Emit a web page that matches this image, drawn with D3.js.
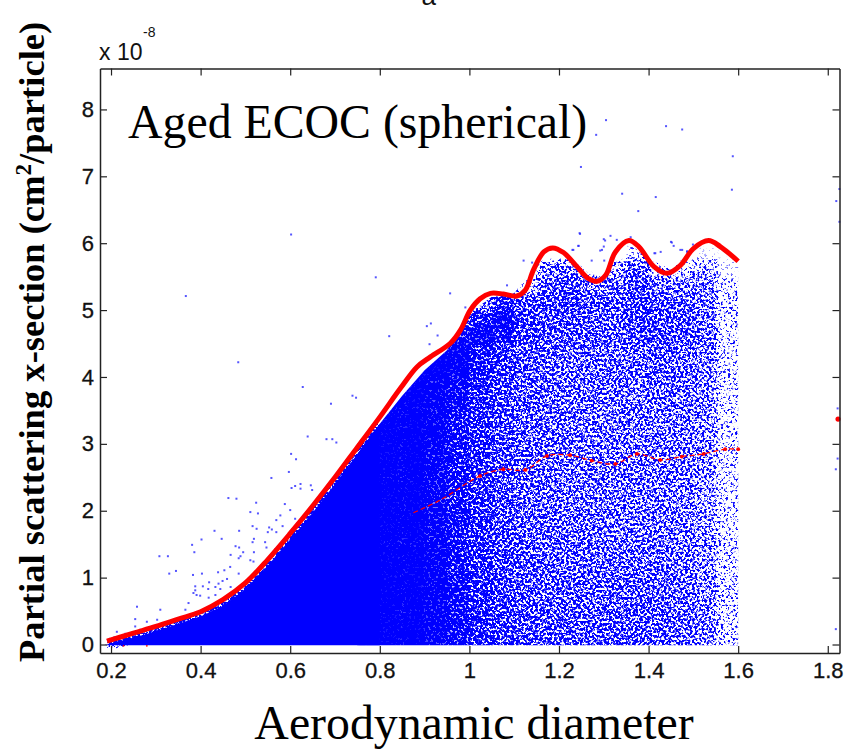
<!DOCTYPE html>
<html><head><meta charset="utf-8">
<script src="https://cdn.jsdelivr.net/npm/d3@7"></script>
<style>html,body{margin:0;padding:0;background:#fff}svg{display:block}</style>
</head><body><svg id="c" width="846" height="750"></svg>
<script>
// Values
const xTicks = [0.2,0.4,0.6,0.8,1,1.2,1.4,1.6,1.8];
const xTickLabels = ["0.2","0.4","0.6","0.8","1","1.2","1.4","1.6","1.8"];
const yTicks = [0,1,2,3,4,5,6,7,8];

const maxX = [0.191,0.25,0.3,0.35,0.4,0.45,0.5,0.55,0.6,0.65,0.7,0.75,0.8,0.846,0.883,0.913,0.957,0.98,1.002,1.024,1.047,1.076,1.106,1.125,1.143,1.166,1.186,1.21,1.24,1.266,1.285,1.304,1.326,1.356,1.378,1.412,1.441,1.471,1.5,1.534,1.56,1.6];
const maxY = [0.05,0.17,0.27,0.38,0.49,0.67,0.92,1.27,1.66,2.07,2.5,2.95,3.4,3.83,4.15,4.3,4.5,4.7,5,5.17,5.25,5.24,5.21,5.3,5.6,5.87,5.93,5.86,5.65,5.47,5.43,5.52,5.87,6.04,5.95,5.65,5.55,5.67,5.92,6.04,5.95,5.73];

const meanX = [0.875,0.935,1.024,1.076,1.125,1.173,1.225,1.273,1.326,1.374,1.426,1.474,1.523,1.571,1.6];
const meanY = [1.97,2.16,2.52,2.62,2.61,2.82,2.83,2.75,2.7,2.85,2.76,2.81,2.85,2.92,2.92];
const strayRed = [[1.823,3.37],[0.228,-0.02],[0.28,-0.02]];

// Upper edge of the solid part of the cloud, and of the whole cloud
const solidX = [0.19,0.25,0.3,0.35,0.4,0.45,0.5,0.55,0.6,0.65,0.7,0.75,0.8];
const solidY = [0,0.1,0.2,0.31,0.42,0.58,0.83,1.18,1.57,1.97,2.4,2.85,3.3];
const edgeX = [0.75,0.8,0.85,0.9,0.95,1.0,1.05,1.1,1.15,1.2,1.25,1.3,1.35,1.4,1.45,1.5,1.55,1.6];
const edgeY = [2.85,3.3,3.72,4.1,4.4,4.95,5.2,5.25,5.7,5.85,5.65,5.5,6,5.8,5.6,5.95,6,5.73];

// Estimated fill fraction of the cloud, per 0.05 x bin and per y bin
const densityXStart = [0.7,0.75,0.8,0.85,0.9,0.95,1,1.05,1.1,1.15,1.2,1.25,1.3,1.35,1.4,1.45,1.5,1.55,1.6];
const densityYStart = [5.75,5.5,5.25,5,4.75,4.5,4,3.5,3,2.5,2,1.5,1,0.5,0,-0.5];
const densityYEnd   = [6,5.75,5.5,5.25,5,4.75,4.5,4,3.5,3,2.5,2,1.5,1,0.5,0];
const density = [
 [0,0,0,0,0,0,0,0,0,.12,.14,0,.12,.38,.12,.1,.28,.24,.24],
 [0,0,0,0,0,0,0,0,.12,.58,.62,.24,.5,.72,.42,.4,.5,.3,.3],
 [0,0,0,0,0,0,0,.2,.35,.72,.78,.62,.7,.8,.65,.6,.6,.38,.38],
 [0,0,0,0,0,0,.6,.9,.8,.78,.82,.75,.75,.82,.75,.7,.65,.4,.4],
 [0,0,0,0,0,.75,.92,.95,.84,.78,.78,.74,.72,.8,.78,.76,.65,.4,.4],
 [0,0,0,0,0,.95,.96,.93,.82,.76,.75,.74,.72,.78,.78,.75,.65,.38,.38],
 [1,1,1,1,1,.98,.92,.85,.76,.72,.7,.7,.7,.7,.72,.7,.62,.38,.38],
 [1,1,1,1,.98,.95,.89,.8,.74,.7,.68,.68,.66,.66,.68,.66,.6,.38,.38],
 [1,1,1,1,.98,.93,.87,.78,.72,.7,.68,.66,.66,.66,.66,.64,.58,.38,.38],
 [1,1,1,1,.97,.92,.86,.78,.72,.7,.66,.66,.66,.66,.66,.62,.58,.38,.38],
 [1,1,1,1,.97,.92,.86,.78,.72,.7,.66,.66,.66,.66,.64,.62,.55,.38,.38],
 [1,1,1,1,.97,.93,.87,.79,.73,.72,.68,.68,.66,.66,.66,.64,.56,.38,.38],
 [1,1,1,1,.98,.93,.88,.8,.75,.72,.7,.7,.7,.7,.7,.66,.58,.4,.4],
 [1,1,1,1,.98,.94,.89,.82,.77,.75,.74,.72,.74,.74,.72,.68,.6,.42,.42],
 [1,1,1,1,.98,.94,.9,.83,.78,.77,.75,.74,.76,.76,.72,.7,.62,.42,.42],
 [1,1,1,1,.98,.94,.9,.83,.78,.77,.75,.74,.76,.76,.72,.7,.62,.42,.42]
];

// Individually read outlying dots
const outliers = [[1.305,7.84],[1.283,7.62],[1.439,7.75],[1.475,7.7],[1.249,7.14],[1.588,7.3],[1.586,6.8],[1.341,6.74],[1.416,6.69],[1.377,6.48],[1.246,6.15],[1.315,6.11],[1.819,6.63],[1.826,6.81],[1.826,6.32],
[0.602,6.13],[0.791,5.49],[0.367,5.21],[0.821,4.61],[0.484,4.22],[0.628,3.85],[0.739,3.72],[0.747,3.69],[0.691,3.6],[0.639,3.11],[0.681,3.07],[0.694,3.07],[0.703,3.02],[0.602,2.85],[0.613,2.77],[0.597,2.58],[0.558,2.49],[0.603,2.34],[0.623,2.4],[0.611,2.37],[0.623,2.33],[0.646,2.38],[0.649,2.31],[0.462,2.19],[0.48,2.18],[0.524,2.12],[0.588,2.1],[0.6,2.01],[0.511,1.98],[0.528,1.96],[0.578,1.93],[0.569,1.86],[0.611,1.88],[0.516,1.77],[0.525,1.73],[0.583,1.77],[0.553,1.75],[0.559,1.72],[0.431,1.7],[0.486,1.7],[0.55,1.68],[0.569,1.68],[0.402,1.57],[0.447,1.58],[0.519,1.58],[0.516,1.53],[0.544,1.53],[0.381,1.49],[0.478,1.47],[0.486,1.45],[0.547,1.45],[0.386,1.38],[0.495,1.38],[0.519,1.38],[0.467,1.34],[0.489,1.32],[0.308,1.32],[0.327,1.32],[0.485,1.29],[0.511,1.26],[0.518,1.24],[0.33,1.06],[0.345,1.1],[0.383,1.04],[0.403,1.06],[0.466,1.16],[0.453,1.11],[0.439,1.08],[0.485,1.06],[0.459,0.98],[0.44,0.91],[0.419,0.93],[0.449,0.95],[0.388,0.87],[0.405,0.87],[0.433,0.86],[0.388,0.81],[0.417,0.83],[0.444,0.83],[0.467,0.86],[0.384,0.77],[0.399,0.73],[0.433,0.74],[0.418,0.7],
[0.258,0.565],[0.31,0.52],[0.303,0.37],[0.28,0.34],[0.254,0.38],[0.254,0.27],[0.213,0.19],[0.232,0.16],[0.265,0.22],[0.332,0.34],[0.366,0.52],[0.373,0.62],[0.391,0.74],
[0.957,5.25],[0.905,4.76],[0.914,4.8],[0.929,4.62],[0.911,4.49],[0.991,5.04],[1.084,5.37],[1.121,5.74],[1.14,5.71],[1.247,6.14],[1.243,5.96],[1.273,5.74],[1.232,5.9],[1.3,6.06],[1.296,5.9],[1.301,5.74],[1.452,6.01],[1.415,5.85],[1.471,5.9],[1.486,5.87],
[1.303,6.04],[1.329,6.05],[1.36,6.09],[1.45,6.02],[1.456,5.96],[1.244,5.96],[1.23,5.9],[1.292,5.89],[1.3,5.95],[1.413,5.85],[1.427,5.87],[1.475,5.9],[1.486,5.88],[1.499,5.98],
[1.822,3.53],[1.822,2.78],[1.818,2.62],[1.818,0.23]];

const W = 846, H = 750;
const L = 100, R = 839.5, T = 68.5, B = 653;
const x = d3.scaleLinear().domain([0.1754,1.8262]).range([L,R]);
const y = d3.scaleLinear().domain([-0.127,8.612]).range([B,T]);
const svg = d3.select("#c");
const defs = svg.append("defs");

const edgeArea = d3.area().x(d=>x(d[0])).y0(y(-0.01)).y1(d=>y(d[1]));
const solidData = d3.zip(solidX,solidY);
const edgeData = d3.zip(edgeX,edgeY);
defs.append("clipPath").attr("id","cloudClip").append("path").attr("d",edgeArea(edgeData));

// Grain filter: turns a density into a speckle texture, carries no data
const f = defs.append("filter").attr("id","grain").attr("filterUnits","userSpaceOnUse")
 .attr("x",0).attr("y",0).attr("width",W).attr("height",H).attr("color-interpolation-filters","sRGB");
f.append("feGaussianBlur").attr("in","SourceAlpha").attr("stdDeviation",2.5).attr("result","blurred");
f.append("feComponentTransfer").attr("in","blurred").attr("result","soft")
 .append("feFuncA").attr("type","table").attr("tableValues","0 .12 .24 .34 .42 .48 .53 .56 .6 .65 .8");
f.append("feTurbulence").attr("type","fractalNoise").attr("baseFrequency",0.42).attr("numOctaves",2).attr("seed",7).attr("result","n");
f.append("feColorMatrix").attr("in","n").attr("type","matrix").attr("values","0 0 0 0 0  0 0 0 0 0  0 0 0 0 0  3 0 0 0 -1").attr("result","na");
f.append("feComposite").attr("in","soft").attr("in2","na").attr("operator","arithmetic")
 .attr("k1",0).attr("k2",2.5).attr("k3",1).attr("k4",-1.7).attr("result","d");
const ct = f.append("feComponentTransfer").attr("in","d").attr("result","m");
ct.append("feFuncA").attr("type","linear").attr("slope",3).attr("intercept",0);
f.append("feFlood").attr("flood-color","#0000ff").attr("result","b");
f.append("feComposite").attr("in","b").attr("in2","m").attr("operator","in");

// Solid part of the cloud
svg.append("path").attr("d",edgeArea(solidData)).attr("fill","#0000ff");

// Fuzzy rim of the solid part
svg.append("g").attr("filter","url(#grain)").append("path")
 .attr("d",d3.line().x(d=>x(d[0])).y(d=>y(d[1]))(solidData))
 .attr("fill","none").attr("stroke","#000").attr("stroke-width",10).attr("stroke-opacity",0.85);

// Density cells
const cells = [];
densityYStart.forEach((ys,r)=>densityXStart.forEach((xs,c)=>cells.push({xs,ys,ye:densityYEnd[r],v:density[r][c]})));
svg.append("g").attr("clip-path","url(#cloudClip)").append("g").attr("filter","url(#grain)")
 .selectAll("rect").data(cells).join("rect")
 .attr("x",d=>x(d.xs)).attr("width",x(0.05)-x(0)+0.5)
 .attr("y",d=>y(d.ye)).attr("height",d=>y(d.ys)-y(d.ye)+0.5)
 .attr("fill","#000").attr("fill-opacity",d=>d.v);

// Outliers
svg.append("g").selectAll("rect").data(outliers).join("rect")
 .attr("x",d=>x(d[0])-1).attr("y",d=>y(d[1])-1).attr("width",2).attr("height",2)
 .attr("fill","#2a2aff").attr("fill-opacity",0.8);

// Red curves
const line = d3.line().x(d=>x(d[0])).y(d=>y(d[1])).curve(d3.curveCatmullRom);
svg.append("path").attr("d",line(d3.zip(meanX,meanY))).attr("fill","none").attr("stroke","#ff0000").attr("stroke-width",1.3).attr("stroke-dasharray","5 3");
svg.append("g").selectAll("circle").data(d3.zip(meanX,meanY).slice(2)).join("circle")
 .attr("cx",d=>x(d[0])).attr("cy",d=>y(d[1])).attr("r",1.9).attr("fill","#ff0000");
svg.append("g").selectAll("circle").data(strayRed).join("circle")
 .attr("cx",d=>x(d[0])).attr("cy",d=>y(d[1])).attr("r",(d,i)=>i?0.9:2.6).attr("fill","#ff0000");
svg.append("path").attr("d",line(d3.zip(maxX,maxY))).attr("fill","none").attr("stroke","#ff0000").attr("stroke-width",5);

// Axes
const axC = "#222";
function styleAxis(g){
  g.select(".domain").attr("stroke",axC).attr("stroke-width",1.5);
  g.selectAll(".tick line").attr("stroke",axC).attr("stroke-width",1.2);
  g.selectAll("text").attr("font-family","'Liberation Sans'").attr("font-size",22).attr("fill","#111").attr("stroke","#111").attr("stroke-width",0.3);
}
const ax = (a)=>a.tickSizeOuter(0);
svg.append("g").attr("transform",`translate(0,${B})`)
 .call(ax(d3.axisBottom(x).tickValues(xTicks).tickFormat((d,i)=>xTickLabels[i]).tickSizeInner(-7).tickPadding(9)))
 .call(styleAxis);
svg.append("g").attr("transform",`translate(0,${T})`)
 .call(ax(d3.axisTop(x).tickValues(xTicks).tickFormat("").tickSizeInner(-7))).call(styleAxis);
svg.append("g").attr("transform",`translate(${L},0)`)
 .call(ax(d3.axisLeft(y).tickValues(yTicks).tickFormat(d3.format("d")).tickSizeInner(-7).tickPadding(6)))
 .call(styleAxis);
svg.append("g").attr("transform",`translate(${R},0)`)
 .call(ax(d3.axisRight(y).tickValues(yTicks).tickFormat("").tickSizeInner(-7))).call(styleAxis);

// Text
const sans = "'Liberation Sans'", serif = "'Liberation Serif'";
svg.append("text").attr("x",99).attr("y",60).attr("font-family",sans).attr("font-size",23).attr("fill","#111").text("x 10");
svg.append("text").attr("x",143).attr("y",37).attr("font-family",sans).attr("font-size",14).attr("fill","#111").text("-8");
svg.append("text").attr("x",421.5).attr("y",5).attr("font-family",sans).attr("font-size",26).attr("fill","#111").text("a");
svg.append("text").attr("x",128).attr("y",137.5).attr("font-family",serif).attr("font-size",47.8).attr("fill","#000").text("Aged ECOC (spherical)");
svg.append("text").attr("x",474).attr("y",739).attr("text-anchor","middle").attr("font-family",serif).attr("font-size",47.8).attr("fill","#000").text("Aerodynamic diameter");
const yl = svg.append("text").attr("transform","translate(44,662) rotate(-90)").attr("font-family",serif).attr("font-weight","bold").attr("font-size",36.6).attr("fill","#000");
yl.append("tspan").text("Partial scattering x-section (cm");
yl.append("tspan").attr("dy",-13).attr("font-size",23).text("2");
yl.append("tspan").attr("dy",13).text("/particle)");
</script></body></html>
